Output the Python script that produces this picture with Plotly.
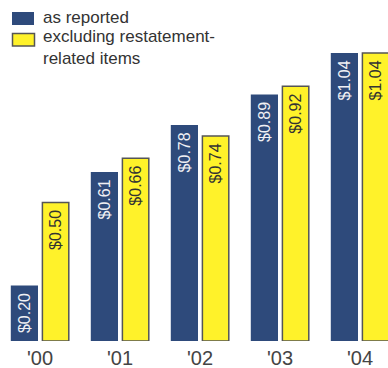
import plotly.graph_objects as go

categories = ["'00", "'01", "'02", "'03", "'04"]
as_reported = [0.20, 0.61, 0.78, 0.89, 1.04]
excluding = [0.50, 0.66, 0.74, 0.92, 1.04]
series_names = ["as reported", "excluding restatement-<br>related items"]

W, H = 388, 368
PLOT_H = 341  # plot area height in px (margin bottom = H - PLOT_H)

BLUE = "#2e4a7b"
YELLOW = "#fff22a"
OUTLINE = "#555555"
TEXT = "#333333"
FONT = "Liberation Sans, Arial, sans-serif"
NBSP = "\u00a0"

fig = go.Figure()
fig.add_trace(go.Bar(
    x=categories, y=as_reported, name=series_names[0],
    width=0.34, offset=-0.365,
    marker=dict(color=BLUE, line=dict(width=0)),
    text=[f"${v:.2f}{NBSP}" for v in as_reported],
    textposition="inside", insidetextanchor="end", textangle=-90,
    textfont=dict(color="#f0f0f4", size=16, family=FONT),
    cliponaxis=False, showlegend=False,
))
fig.add_trace(go.Bar(
    x=categories, y=excluding, name=series_names[1],
    width=0.33, offset=0.03,
    marker=dict(color=YELLOW, line=dict(width=1.5, color=OUTLINE)),
    text=[f"${v:.2f}{NBSP}" for v in excluding],
    textposition="inside", insidetextanchor="end", textangle=-90,
    textfont=dict(color=TEXT, size=16, family=FONT),
    cliponaxis=False, showlegend=False,
))

def px(x):
    return x / W

def py(y):
    return 1 - y / PLOT_H

shapes = [
    dict(type="rect", xref="paper", yref="paper",
         x0=px(12), x1=px(34), y0=py(25), y1=py(12),
         fillcolor=BLUE, line=dict(width=0)),
    dict(type="rect", xref="paper", yref="paper",
         x0=px(12.5), x1=px(34.5), y0=py(46), y1=py(33.5),
         fillcolor=YELLOW, line=dict(width=1.5, color=OUTLINE)),
]
annotations = [
    dict(xref="paper", yref="paper", x=px(41), y=py(18), xanchor="left", yanchor="middle",
         text=series_names[0], showarrow=False, align="left",
         font=dict(size=17, color=TEXT, family=FONT)),
    dict(xref="paper", yref="paper", x=px(41), y=py(48), xanchor="left", yanchor="middle",
         text=series_names[1], showarrow=False, align="left",
         font=dict(size=17, color=TEXT, family=FONT)),
]

fig.update_layout(
    width=W, height=H,
    margin=dict(l=0, r=0, t=0, b=H - PLOT_H, autoexpand=False),
    paper_bgcolor="white", plot_bgcolor="white",
    barmode="overlay",
    shapes=shapes, annotations=annotations,
    uniformtext=dict(minsize=16, mode="show"),
    xaxis=dict(range=[-0.5, 4.35], showgrid=False, zeroline=False, showline=False,
               ticks="", automargin=False, ticklabelstandoff=3,
               tickfont=dict(size=20, color="#444444", family=FONT)),
    yaxis=dict(range=[0, PLOT_H / 277.0], showgrid=False, zeroline=False,
               showline=False, showticklabels=False, ticks=""),
)

fig.write_html(
    "out.html",
    config={"displayModeBar": False},
    post_script="document.body.style.margin='0';document.body.style.padding='0';",
)
